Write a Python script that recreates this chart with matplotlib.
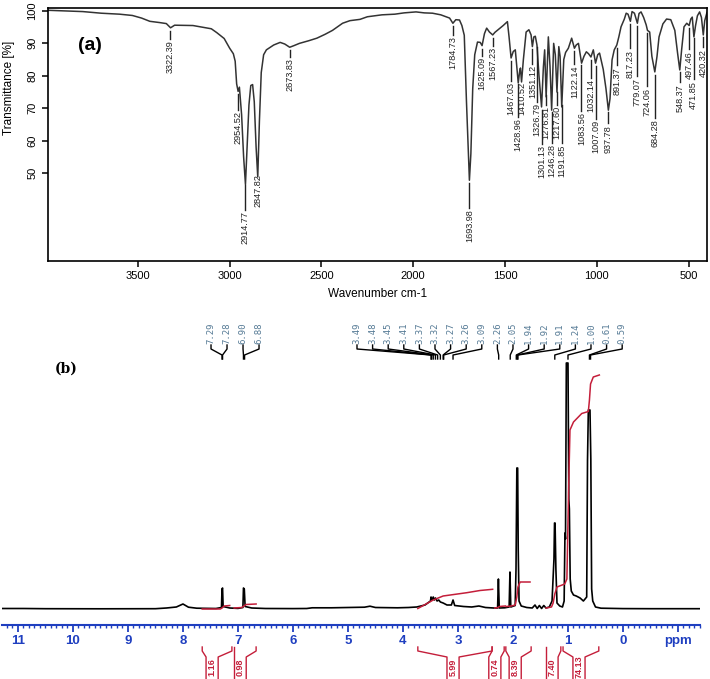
import numpy as np
import matplotlib
matplotlib.use("Agg")
import matplotlib.pyplot as plt
from matplotlib import font_manager

# ---- fonts
names = {f.name for f in font_manager.fontManager.ttflist}
narrow = 'Liberation Sans Narrow' if 'Liberation Sans Narrow' in names else 'Liberation Sans'
sans = 'Liberation Sans'

# ---- (a) IR spectrum
ir_wn = [3990, 3900, 3800, 3700, 3600, 3530, 3480, 3435, 3380, 3345, 3322, 3300, 3200, 3100,
         3070, 3030, 3000, 2980, 2970, 2962, 2954, 2947, 2935, 2924, 2914, 2905, 2895, 2885,
         2875, 2866, 2856, 2847, 2838, 2828, 2815, 2800, 2760, 2725, 2700, 2673, 2650, 2620,
         2570, 2525, 2480, 2440, 2385, 2345, 2290, 2250, 2170, 2100, 2050, 1985, 1940, 1895,
         1850, 1802, 1784, 1768, 1748, 1735, 1722, 1710, 1694, 1686, 1676, 1665, 1650, 1635,
         1625, 1612, 1600, 1585, 1567, 1555, 1540, 1510, 1487, 1478, 1467, 1455, 1444, 1428,
         1420, 1416, 1410, 1400, 1385, 1370, 1358, 1351, 1343, 1335, 1326, 1315, 1301, 1291,
         1284, 1276, 1264, 1255, 1246, 1235, 1226, 1217, 1207, 1200, 1191, 1180, 1170, 1155,
         1137, 1122, 1112, 1100, 1083, 1070, 1057, 1045, 1032, 1019, 1007, 995, 985, 965,
         950, 937, 928, 917, 905, 891, 880, 868, 850, 840, 830, 817, 808, 795, 779, 770,
         759, 745, 731, 724, 712, 700, 684, 672, 661, 640, 620, 597, 575, 560, 548, 538,
         525, 510, 497, 488, 480, 471, 462, 452, 440, 430, 420, 412, 400]
ir_t = [100.2, 100.0, 99.8, 99.3, 99.0, 98.6, 97.8, 96.8, 96.4, 96.1, 94.8, 95.6, 95.5, 94.5,
        93.3, 91.5, 88.5, 86.8, 84.5, 77.5, 75.2, 76.5, 68, 55, 46.5, 58, 71, 77,
        77.3, 72, 58, 48.8, 66, 81, 86.5, 88, 89.5, 90.3, 89.8, 88.8, 89.3, 90,
        90.8, 91.6, 92.8, 94, 96.2, 97.0, 97.4, 98.2, 98.8, 99.0, 99.4, 99.7, 99.4, 99.3,
        98.8, 97.8, 96.2, 97.3, 97.2, 95.5, 92.5, 72, 47.8, 56, 76, 86.5, 90.4, 90.3,
        89.3, 93, 94.7, 93.5, 92.6, 93.4, 94.1, 95.5, 96.7, 92, 85.5, 87.5, 88, 77.8,
        81.5, 82.4, 78.1, 85, 93.5, 94.2, 92.6, 89, 92, 92.2, 89.5, 80, 70.4, 82.7,
        88, 73.5, 92, 83, 69.4, 90, 86.5, 75, 89, 86, 70.4, 85, 87.2, 88.5,
        91.6, 88.5, 89.5, 90, 83.9, 86, 87.4, 86.8, 85.8, 88, 83.9, 86.5, 87, 82,
        76, 69.4, 73, 84.9, 88, 89.5, 92, 95.1, 97.5, 99.3, 99.0, 96.8, 99.8, 99.3, 96.2, 99.2,
        99.7, 98, 95.7, 94, 93.5, 86, 81.2, 86, 92, 96, 97.5, 97.3, 94, 87, 81.8, 88,
        95.1, 96.2, 95.5, 97.5, 98.1, 92, 95.5, 98.5, 99.7, 98, 92.6, 97, 99.5]

ir_labels = ['3322.39', '2954.52', '2914.77', '2847.82', '2673.83', '1784.73', '1693.98',
             '1625.09', '1567.23', '1467.03', '1428.96', '1410.52', '1351.12', '1326.79',
             '1301.13', '1276.81', '1246.28', '1217.60', '1191.85', '1122.14', '1083.56',
             '1032.14', '1007.09', '937.78', '891.37', '817.23', '779.07', '724.06',
             '684.28', '548.37', '497.46', '471.85', '420.32']
# where each label text sits (transmittance units)
ir_label_y = [85.8, 64.0, 33.2, 44.6, 80.3, 87.1, 33.8, 80.6, 83.7, 72.9, 61.8, 72.9, 78.2,
              66.5, 53.5, 65.5, 53.8, 65.5, 53.8, 78.2, 63.7, 73.8, 61.2, 60.6, 78.5, 83.7,
              75.1, 72.0, 62.2, 73.2, 83.4, 74.2, 84.0]
ir_xticks = [3500, 3000, 2500, 2000, 1500, 1000, 500]
ir_yticks = [50, 60, 70, 80, 90, 100]

# ---- (b) 1H NMR spectrum
nmr_ppm = [11.29, 10.9, 10.5, 9.5, 8.5, 8.3, 8.12, 8.0, 7.9, 7.75, 7.4, 7.30, 7.29, 7.28, 7.27,
           7.15, 7.0, 6.91, 6.90, 6.885, 6.87, 6.75, 6.5, 6.0, 5.75, 5.65, 5.3, 5.0, 4.7, 4.6,
           4.5, 4.1, 3.9, 3.75, 3.6, 3.5, 3.49, 3.47, 3.45, 3.43, 3.41, 3.38, 3.35, 3.32, 3.27,
           3.2, 3.12, 3.09, 3.06, 2.9, 2.75, 2.62, 2.5, 2.35, 2.28, 2.265, 2.25, 2.15, 2.07,
           2.055, 2.04, 1.96, 1.945, 1.93, 1.915, 1.905, 1.89, 1.85, 1.75, 1.65, 1.6, 1.56,
           1.52, 1.48, 1.44, 1.4, 1.34, 1.29, 1.255, 1.245, 1.235, 1.22, 1.2, 1.15, 1.1, 1.07,
           1.055, 1.045, 1.03, 1.0, 0.985, 0.975, 0.96, 0.94, 0.9, 0.85, 0.78, 0.72, 0.66,
           0.645, 0.63, 0.60, 0.585, 0.57, 0.55, 0.5, 0.4, 0.0, -0.5, -1.4]
nmr_int = [0.5, 0.5, 0.3, 0.2, 0.3, 1.0, 2.0, 5.0, 1.8, 0.8, 0.5, 1.5, 20, 21, 2.5,
           1.0, 0.6, 1.5, 21, 20, 2.5, 1.0, 0.5, 0.4, 0.5, 1.2, 1.2, 1.5, 1.8, 2.8,
           1.5, 1.2, 1.5, 2.0, 4.0, 8.0, 12, 9, 12, 9, 11, 8, 9, 7, 6,
           4, 4, 9, 3.5, 2.5, 2.0, 3.0, 1.5, 1.0, 1.0, 30, 1.0, 1.2, 2.0,
           37, 2.0, 3.5, 40, 141, 141, 60, 8, 3, 1.5, 1.0, 4.0, 0.5,
           3.5, 0.5, 3.5, 1.0, 2.0, 8, 50, 86, 86, 40, 6, 3, 2, 8,
           76, 70, 246, 246, 110, 100, 30, 18, 14, 13, 11, 8, 12,
           149, 199, 199, 150, 20, 8, 2, 0.8, 0.4, 0.3, 0.3]

# integral curves (ppm, running integral)
integ_curves = [
    ([7.65, 7.32, 7.29, 7.25, 7.15], [0, 0, 1, 3, 3.5]),
    ([7.07, 6.93, 6.89, 6.85, 6.67], [1, 1.5, 3, 4.5, 5]),
    ([3.73, 3.69, 3.45, 3.27, 2.84, 2.60, 2.37], [0.5, 1.7, 9, 13, 16.3, 18.5, 19.7]),
    ([2.33, 2.27, 2.25, 2.14], [1, 1.5, 2.5, 3]),
    ([2.12, 2.03, 1.96, 1.93, 1.91, 1.87, 1.69], [2.5, 3, 4, 12, 22, 27, 27]),
    ([1.40, 1.30, 1.27, 1.24, 1.20, 1.13, 1.06, 1.02, 0.99, 0.964, 0.90, 0.75, 0.63, 0.61,
      0.59, 0.54, 0.43],
     [1, 2, 6, 15, 22, 23.5, 25, 30, 116, 179, 187, 195.5, 197.5, 209, 225, 232, 234]),
]
integ_start = [7.65, 7.07, 3.73, 2.38, 2.13, 1.40, 1.09]
integ_end = [7.11, 6.67, 2.38, 2.16, 1.67, 1.13, 0.44]
integ_text_at = [7.47, 6.96, 3.09, 2.33, 1.96, 1.29, 0.80]
integ_values = ['1.16', '0.98', '5.99', '0.74', '8.39', '7.40', '74.13']

peak_group1 = ['7.29', '7.28', '6.90', '6.88']
peak_group2 = ['3.49', '3.48', '3.45', '3.41', '3.37', '3.32', '3.27', '3.26', '3.09',
               '2.26', '2.05', '1.94', '1.92', '1.91', '1.24', '1.00', '0.61', '0.59']
nmr_ticks = [11, 10, 9, 8, 7, 6, 5, 4, 3, 2, 1, 0, -1]
nmr_ticklabels = ['11', '10', '9', '8', '7', '6', '5', '4', '3', '2', '1', '0', 'ppm']

blue = '#1f3fc0'
red = '#c41e3a'
label_grey = '#557a95'

fig = plt.figure(figsize=(7.10, 6.79), dpi=100)

# ================= (a)
ax = fig.add_axes([0.067, 0.6156, 0.9287, 0.3726])
ax.plot(ir_wn, ir_t, color='#333333', lw=1.1)
ax.set_xlim(3992, 400)
ax.set_ylim(22.9, 100.9)
ax.set_xticks(ir_xticks)
ax.set_yticks(ir_yticks)
for s in ax.spines.values():
    s.set_linewidth(1.2)
ax.tick_params(length=4, width=1.1, labelsize=8)
ax.tick_params(axis='y', labelrotation=90)
for lb in ax.get_yticklabels():
    lb.set_va('center')
    lb.set_family(sans)
for lb in ax.get_xticklabels():
    lb.set_family(sans)
ax.set_ylabel('Transmittance [%]', fontsize=8.5, family=sans)
ax.yaxis.set_label_coords(-0.05, 0.684)
ax.set_xlabel('Wavenumber cm-1', fontsize=8.5, family=sans)
ax.xaxis.set_label_coords(0.5, -0.105)

wn_sorted = np.array(ir_wn[::-1])
t_sorted = np.array(ir_t[::-1])
for lab, ty in zip(ir_labels, ir_label_y):
    w = float(lab)
    yc = np.interp(w, wn_sorted, t_sorted)
    half = 0.66 * len(lab)
    top = ty + half + 0.9
    if yc - 0.9 > top:
        ax.plot([w, w], [yc - 0.9, top], color='#222222', lw=1.0)
    ax.text(w, ty, lab, rotation=90, ha='center', va='center', fontsize=6.6,
            family=narrow, color='#222222')

fig.text(90 / 710, 1 - 46 / 679, '(a)', fontsize=14, fontweight='bold', family=sans,
         ha='center', va='center')

# ================= (b)
bx = fig.add_axes([2 / 710, 1 - 625 / 679, 698 / 710, 325 / 679])
bx.set_xlim(11.29, -1.40)
bx.set_ylim(-16, 309)
for s in ['top', 'right', 'left']:
    bx.spines[s].set_visible(False)
bx.spines['bottom'].set_color(blue)
bx.spines['bottom'].set_linewidth(1.5)
bx.set_yticks([])
bx.set_xticks(nmr_ticks)
bx.set_xticklabels(nmr_ticklabels)
bx.set_xticks(np.round(np.arange(-14, 113) * 0.1, 1), minor=True)
bx.tick_params(axis='x', which='major', colors=blue, length=5, width=1.3, labelsize=9.5, pad=2)
bx.tick_params(axis='x', which='minor', colors=blue, length=2.5, width=1.0)
for lb in bx.get_xticklabels():
    lb.set_fontweight('bold')
    lb.set_family(sans)

bx.plot(nmr_ppm, nmr_int, color='black', lw=1.2)
for xs, ys in integ_curves:
    bx.plot(xs, ys, color=red, lw=1.1)

# integral brackets under the scale
d = 0.11
for s0, e0, tc, val in zip(integ_start, integ_end, integ_text_at, integ_values):
    bx.plot([s0, s0, tc + d, tc + d], [-38, -42, -48, -70], color=red, lw=1.0, clip_on=False)
    bx.plot([tc - d, tc - d, e0, e0], [-70, -48, -42, -38], color=red, lw=1.0, clip_on=False)
    bx.text(tc, -58, val, rotation=90, ha='center', va='center', color=red, fontsize=6.5,
            fontweight='bold', family=sans, clip_on=False)

# peak pick labels on top
for group, first, step in [(peak_group1, 7.49, 0.291), (peak_group2, 4.836, 0.2836)]:
    for i, lab in enumerate(group):
        lx = first - i * step
        p = float(lab)
        bx.text(lx, 265, lab, rotation=90, ha='center', va='bottom', fontsize=6.5,
                family='DejaVu Sans Mono', color=label_grey)
        bx.plot([lx, lx, p, p], [264, 260, 254, 250], color='black', lw=1.0)

fig.text(66 / 710, 1 - 369 / 679, '(b)', fontsize=10, fontweight='bold', family='DejaVu Serif',
         ha='center', va='center')

fig.savefig('out.png', dpi=100)
